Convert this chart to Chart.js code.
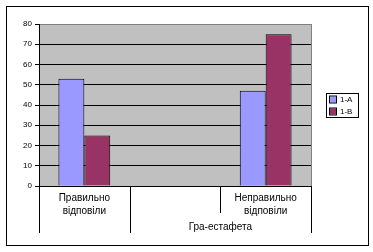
<!DOCTYPE html>
<html>
<head>
<meta charset="utf-8">
<script src="https://cdn.jsdelivr.net/npm/chart.js@4.4.1/dist/chart.umd.min.js"></script>
<style>
  html, body { margin: 0; padding: 0; background: #fff; }
  canvas { display: block; }
</style>
</head>
<body>
<canvas id="myChart" width="373" height="252"></canvas>
<script>
// chart data
const categories = [['Правильно', 'відповіли'], '', ['Неправильно', 'відповіли']];
const groupLabel = 'Гра-естафета';
const seriesNames = ['1-А', '1-В'];
const valuesA = [53, null, 47];
const valuesB = [25, null, 75];
const seriesColors = ['#9999FF', '#993366'];

const FONT = '"Liberation Sans", Arial, sans-serif';

// gray plot area, frame, multi-level category separators and the legend box
const excelLook = {
    id: 'excelLook',
    beforeDraw(chart) {
        const c = chart.ctx, a = chart.chartArea;
        c.save();
        c.fillStyle = '#C0C0C0';
        c.fillRect(a.left, a.top, a.right - a.left, a.bottom - a.top);
        c.restore();
    },
    afterDraw(chart) {
        const c = chart.ctx, a = chart.chartArea, x = chart.scales.x;
        c.save();
        c.lineWidth = 1;
        // right edge of plot
        c.strokeStyle = '#808080';
        c.beginPath();
        c.moveTo(Math.round(a.right) + 0.5, a.top);
        c.lineTo(Math.round(a.right) + 0.5, a.bottom);
        c.stroke();

        // outer frame
        c.strokeStyle = '#000';
        c.strokeRect(6.5, 6.5, 362, 239);

        // category separators
        const w = (x.right - x.left) / categories.length;
        for (let k = 0; k <= categories.length; k++) {
            const px = Math.round(x.left + k * w) + 0.5;
            const end = (k === 2) ? 213 : 233;
            c.beginPath();
            c.moveTo(px, a.bottom);
            c.lineTo(px, end);
            c.stroke();
        }

        // group label over categories 2..3
        c.fillStyle = '#000';
        c.font = '10px ' + FONT;
        c.textAlign = 'center';
        c.textBaseline = 'middle';
        c.fillText(groupLabel, x.left + 2 * w, 227);

        // legend
        const lx = 326, ly = 93, lw = 32, lh = 24;
        c.fillStyle = '#fff';
        c.fillRect(lx, ly, lw, lh);
        c.strokeStyle = '#000';
        c.strokeRect(lx + 0.5, ly + 0.5, lw, lh);
        c.font = '8px ' + FONT;
        c.textAlign = 'left';
        chart.data.datasets.forEach((ds, i) => {
            const cy = ly + 6.5 + i * 12;
            c.fillStyle = ds.backgroundColor;
            c.fillRect(lx + 4, cy - 3, 6, 6);
            c.strokeStyle = '#000';
            c.strokeRect(lx + 3.5, cy - 3.5, 7, 7);
            c.fillStyle = '#000';
            c.fillText(ds.label, lx + 14, cy + 0.5);
        });
        c.restore();
    }
};

const ctx = document.getElementById('myChart');

new Chart(ctx, {
    type: 'bar',
    data: {
        labels: categories,
        datasets: [
            {
                label: seriesNames[0],
                data: valuesA,
                backgroundColor: seriesColors[0],
                borderColor: '#000',
                borderWidth: 1,
                categoryPercentage: 2 / 3.5,
                barPercentage: 1
            },
            {
                label: seriesNames[1],
                data: valuesB,
                backgroundColor: seriesColors[1],
                borderColor: '#000',
                borderWidth: 1,
                categoryPercentage: 2 / 3.5,
                barPercentage: 1
            }
        ]
    },
    options: {
        responsive: false,
        animation: false,
        devicePixelRatio: 1,
        layout: { padding: { left: 6, right: 62, top: 24, bottom: 0 } },
        plugins: {
            legend: { display: false },
            tooltip: { enabled: false }
        },
        scales: {
            x: {
                grid: { display: false },
                border: { color: '#000' },
                ticks: {
                    color: '#000',
                    font: { family: FONT, size: 10, lineHeight: 1.3 },
                    padding: -2,
                    maxRotation: 0,
                    autoSkip: false
                },
                afterFit(scale) { scale.height = 66; }
            },
            y: {
                min: 0,
                max: 80,
                ticks: {
                    stepSize: 10,
                    color: '#000',
                    font: { family: FONT, size: 8 },
                    padding: 3
                },
                grid: {
                    color: (c) => c.tick && c.tick.value === 80 ? '#808080' : '#000',
                    tickColor: '#000',
                    tickLength: 4
                },
                border: { color: '#000' },
                afterFit(scale) { scale.width = 33; }
            }
        }
    },
    plugins: [excelLook]
});
</script>
</body>
</html>
